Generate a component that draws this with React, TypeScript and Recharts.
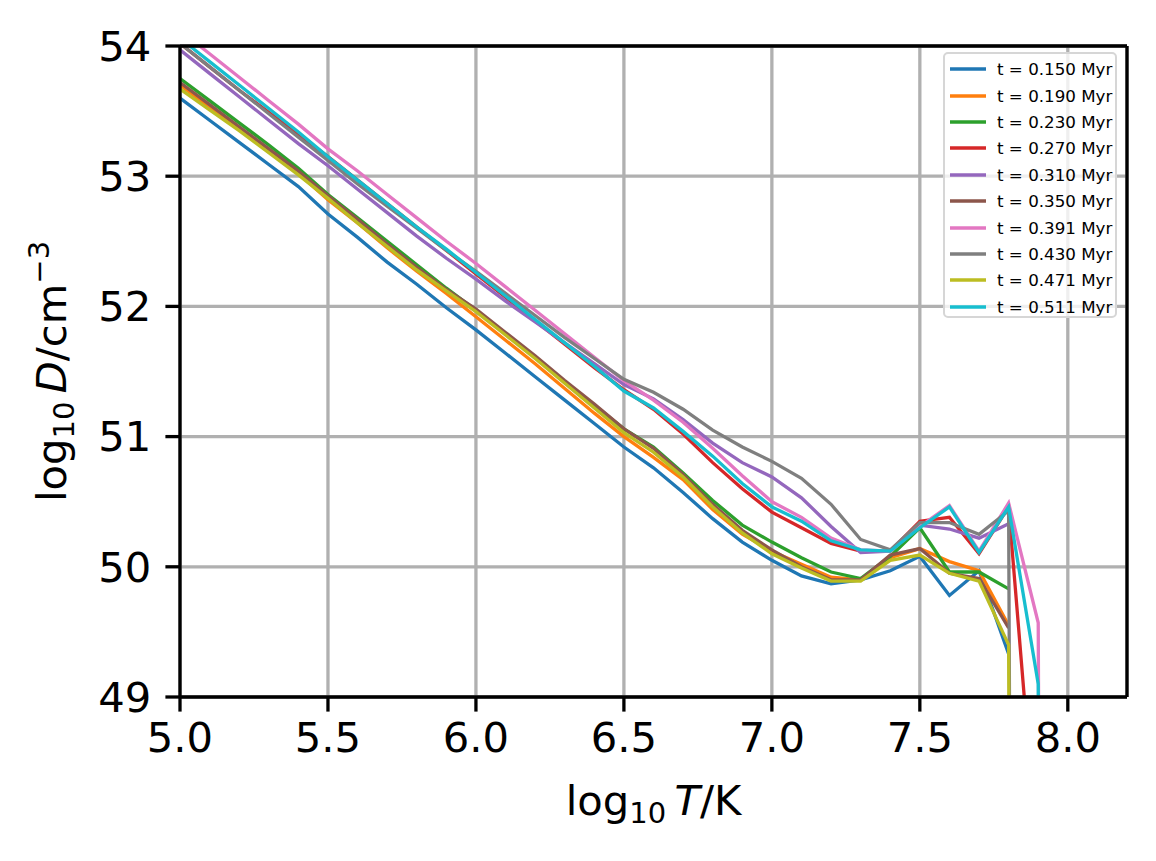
import { CartesianGrid, Label, Legend, Line, LineChart, XAxis, YAxis } from "recharts";

const FONT = "DejaVu Sans";

// log10 T grid the curves are sampled on
const TEMPS = [
  5.0, 5.1, 5.2, 5.3, 5.4, 5.5, 5.6, 5.7, 5.8, 5.9, 6.0, 6.1, 6.2, 6.3, 6.4, 6.5, 6.6, 6.7, 6.8, 6.9, 7.0,
  7.1, 7.2, 7.3, 7.4, 7.5, 7.6, 7.7, 7.8, 7.9, 8.0,
];

const X_TICKS = [5.0, 5.5, 6.0, 6.5, 7.0, 7.5, 8.0];
const Y_TICKS = [49, 50, 51, 52, 53, 54];

const LABELS = [
  "t = 0.150 Myr",
  "t = 0.190 Myr",
  "t = 0.230 Myr",
  "t = 0.270 Myr",
  "t = 0.310 Myr",
  "t = 0.350 Myr",
  "t = 0.391 Myr",
  "t = 0.430 Myr",
  "t = 0.471 Myr",
  "t = 0.511 Myr",
];

const COLORS = [
  "#1f77b4", "#ff7f0e", "#2ca02c", "#d62728", "#9467bd",
  "#8c564b", "#e377c2", "#7f7f7f", "#bcbd22", "#17becf",
];

// log10 D values; 0 stands for the empty bins that fall off the bottom
const D_0150 = [53.60, 53.43, 53.26, 53.09, 52.92, 52.71, 52.53, 52.34, 52.17, 51.99, 51.82, 51.64, 51.46, 51.28, 51.10, 50.92, 50.76, 50.57, 50.37, 50.19, 50.05, 49.93, 49.87, 49.90, 49.97, 50.08, 49.78, 49.97, 49.33, null, null];
const D_0190 = [53.70, 53.53, 53.36, 53.19, 53.02, 52.82, 52.64, 52.45, 52.27, 52.10, 51.92, 51.74, 51.56, 51.37, 51.18, 51.00, 50.84, 50.67, 50.44, 50.25, 50.12, 50.02, 49.92, 49.90, 50.07, 50.14, 50.04, 49.97, 49.55, null, null];
const D_0230 = [53.75, 53.58, 53.41, 53.24, 53.06, 52.86, 52.68, 52.50, 52.32, 52.14, 51.97, 51.79, 51.61, 51.42, 51.24, 51.06, 50.92, 50.72, 50.51, 50.32, 50.19, 50.07, 49.96, 49.91, 50.08, 50.30, 49.96, 49.96, 49.83, null, null];
const D_0270 = [54.02, 53.84, 53.66, 53.49, 53.32, 53.15, 52.97, 52.79, 52.61, 52.43, 52.25, 52.07, 51.89, 51.71, 51.53, 51.36, 51.21, 51.02, 50.80, 50.60, 50.42, 50.30, 50.18, 50.12, 50.12, 50.35, 50.38, 50.10, 50.46, 47.70, 0];
const D_0310 = [53.97, 53.79, 53.61, 53.43, 53.25, 53.08, 52.90, 52.72, 52.54, 52.37, 52.21, 52.04, 51.88, 51.72, 51.56, 51.40, 51.29, 51.13, 50.95, 50.80, 50.69, 50.53, 50.31, 50.11, 50.12, 50.32, 50.29, 50.22, 50.33, null, null];
const D_0350 = [53.72, 53.55, 53.38, 53.21, 53.04, 52.85, 52.67, 52.48, 52.30, 52.13, 51.98, 51.80, 51.62, 51.43, 51.25, 51.06, 50.91, 50.71, 50.48, 50.28, 50.13, 50.00, 49.90, 49.90, 50.09, 50.14, 49.95, 49.91, 49.53, null, null];
const D_0391 = [54.12, 53.94, 53.76, 53.58, 53.40, 53.21, 53.04, 52.86, 52.68, 52.50, 52.33, 52.15, 51.97, 51.79, 51.61, 51.43, 51.28, 51.11, 50.91, 50.70, 50.50, 50.38, 50.22, 50.13, 50.12, 50.31, 50.47, 50.12, 50.49, 49.57, 0];
const D_0430 = [54.02, 53.84, 53.66, 53.48, 53.30, 53.12, 52.94, 52.77, 52.60, 52.43, 52.27, 52.10, 51.93, 51.76, 51.60, 51.44, 51.34, 51.21, 51.05, 50.92, 50.81, 50.68, 50.48, 50.21, 50.13, 50.34, 50.34, 50.25, 50.43, 0, null];
const D_0471 = [53.67, 53.51, 53.35, 53.18, 53.01, 52.83, 52.64, 52.46, 52.28, 52.12, 51.96, 51.78, 51.60, 51.41, 51.22, 51.03, 50.88, 50.69, 50.46, 50.26, 50.10, 49.99, 49.89, 49.89, 50.05, 50.09, 49.95, 49.89, 49.40, 0, null];
const D_0511 = [54.06, 53.88, 53.70, 53.52, 53.34, 53.15, 52.97, 52.79, 52.61, 52.44, 52.26, 52.08, 51.90, 51.72, 51.54, 51.35, 51.22, 51.04, 50.85, 50.64, 50.46, 50.35, 50.20, 50.13, 50.12, 50.30, 50.46, 50.11, 50.46, 49.10, 0];

const SERIES = [D_0150, D_0190, D_0230, D_0270, D_0310, D_0350, D_0391, D_0430, D_0471, D_0511];

const data = TEMPS.map((t, i) => {
  const row: Record<string, number | null> = { t };
  SERIES.forEach((vals, k) => {
    row[`s${k}`] = vals[i];
  });
  return row;
});

const AXIS = { stroke: "#000", strokeWidth: 3.3 };
const TICK = { fill: "#000", fontSize: 41.7, fontFamily: FONT };

function XTitle({ viewBox }: any) {
  const cx = viewBox.x + viewBox.width / 2;
  return (
    <text x={cx} y={viewBox.y + 118} textAnchor="middle" fontFamily={FONT} fontSize={41.7} fill="#000">
      <tspan>log</tspan>
      <tspan fontSize={29} dy={8}>10</tspan>
      <tspan dy={-8}>{"\u2009"}</tspan>
      <tspan fontStyle="italic">T</tspan>
      <tspan>/K</tspan>
    </text>
  );
}

function YTitle({ viewBox }: any) {
  const x = viewBox.x + 36;
  const cy = viewBox.y + viewBox.height / 2;
  return (
    <text
      x={x}
      y={cy}
      transform={`rotate(-90, ${x}, ${cy})`}
      textAnchor="middle"
      fontFamily={FONT}
      fontSize={41.7}
      fill="#000"
    >
      <tspan>log</tspan>
      <tspan fontSize={29} dy={8}>10</tspan>
      <tspan dy={-8}>{"\u2009"}</tspan>
      <tspan fontStyle="italic">D</tspan>
      <tspan>/cm</tspan>
      <tspan fontSize={29} dy={-17}>{"\u22123"}</tspan>
    </text>
  );
}

function LegendBox({ payload }: any) {
  return (
    <div
      style={{
        boxSizing: "border-box",
        width: 174,
        height: 266,
        border: "2px solid #d6d6d6",
        borderRadius: 5,
        background: "rgba(255,255,255,0.8)",
        padding: "2px 0 0 5px",
        fontFamily: FONT,
        fontSize: 16.7,
        color: "#000",
      }}
    >
      {(payload || []).map((p: any) => (
        <div key={p.value} style={{ display: "flex", alignItems: "center", height: 26.4, whiteSpace: "nowrap" }}>
          <svg width={36} height={6} style={{ display: "block" }}>
            <line x1={0} y1={3} x2={36} y2={3} stroke={p.color} strokeWidth={3.3} />
          </svg>
          <span style={{ marginLeft: 11 }}>{p.value}</span>
        </div>
      ))}
    </div>
  );
}

export default function App() {
  return (
    <div style={{ position: "absolute", left: 0, top: 0, background: "#fff" }}>
      <LineChart width={1156} height={861} data={data} margin={{ top: 45, right: 28, bottom: 34, left: 30 }}>
        <CartesianGrid stroke="#b0b0b0" strokeWidth={3.3} />
        <XAxis
          dataKey="t"
          type="number"
          domain={[5, 8.2]}
          allowDataOverflow
          ticks={X_TICKS}
          interval={0}
          tickFormatter={(v: number) => v.toFixed(1)}
          height={130}
          axisLine={AXIS}
          tickLine={AXIS}
          tickSize={14.6}
          tickMargin={11}
          tick={TICK}
        >
          <Label content={XTitle} />
        </XAxis>
        <XAxis
          xAxisId="top"
          orientation="top"
          type="number"
          domain={[5, 8.2]}
          height={1}
          tick={false}
          tickLine={false}
          axisLine={AXIS}
        />
        <YAxis
          type="number"
          domain={[49, 54]}
          allowDataOverflow
          ticks={Y_TICKS}
          interval={0}
          width={150}
          axisLine={AXIS}
          tickLine={AXIS}
          tickSize={14.6}
          tickMargin={14}
          tick={TICK}
        >
          <Label content={YTitle} />
        </YAxis>
        <YAxis
          yAxisId="right"
          orientation="right"
          type="number"
          domain={[49, 54]}
          width={1}
          tick={false}
          tickLine={false}
          axisLine={AXIS}
        />
        {SERIES.map((_, k) => (
          <Line
            key={k}
            dataKey={`s${k}`}
            name={LABELS[k]}
            stroke={COLORS[k]}
            strokeWidth={3.3}
            dot={false}
            activeDot={false}
            type="linear"
            isAnimationActive={false}
          />
        ))}
        <Legend
          layout="vertical"
          align="center"
          verticalAlign="middle"
          wrapperStyle={{ left: 943, top: 52, width: 174, height: 266 }}
          content={LegendBox}
        />
      </LineChart>
    </div>
  );
}
